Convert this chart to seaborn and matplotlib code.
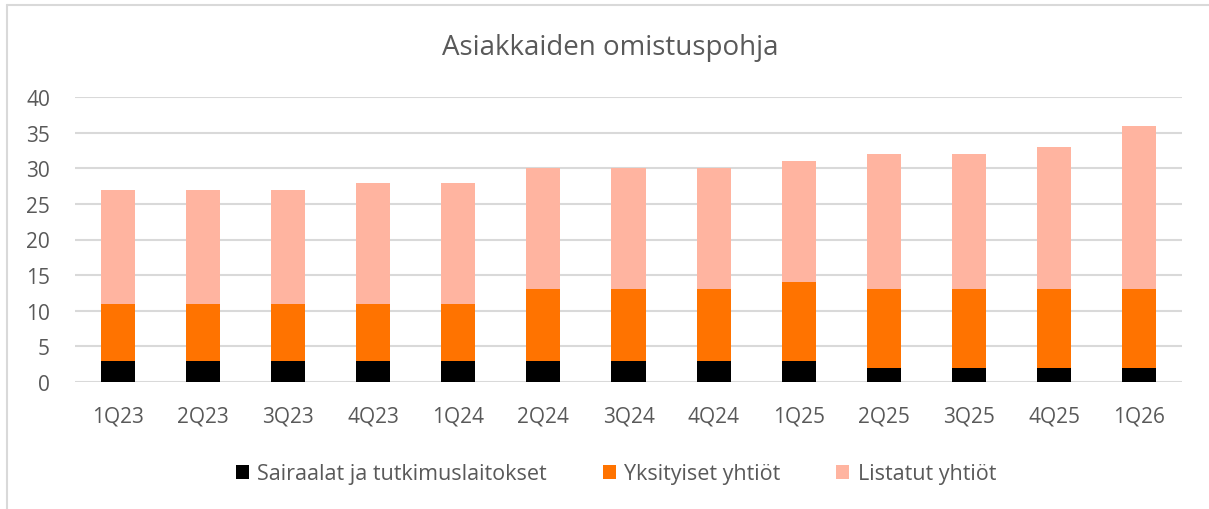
import matplotlib
matplotlib.use("Agg")
import matplotlib.pyplot as plt
import seaborn as sns
import pandas as pd
import numpy as np
from matplotlib.patches import Patch
from matplotlib.lines import Line2D

categories = ["1Q23", "2Q23", "3Q23", "4Q23", "1Q24", "2Q24", "3Q24", "4Q24",
              "1Q25", "2Q25", "3Q25", "4Q25", "1Q26"]
sairaalat = [3, 3, 3, 3, 3, 3, 3, 3, 3, 2, 2, 2, 2]
yksityiset = [8, 8, 8, 8, 8, 10, 10, 10, 11, 11, 11, 11, 11]
listatut = [16, 16, 16, 17, 17, 17, 17, 17, 17, 19, 19, 20, 23]
series_names = ["Sairaalat ja tutkimuslaitokset", "Yksityiset yhtiöt", "Listatut yhtiöt"]
colors = ["#000000", "#FF7300", "#FFB4A0"]

sns.set_theme(style="white")
plt.rcParams['font.family'] = ['Open Sans', 'DejaVu Sans']
text_color = "#595959"

df = pd.DataFrame({"cat": categories, "s": sairaalat, "y": yksityiset, "l": listatut})
df["c1"] = df["s"]
df["c2"] = df["s"] + df["y"]
df["c3"] = df["c2"] + df["l"]

fig = plt.figure(figsize=(12.09, 5.10), dpi=100)
ax = fig.add_axes([75/1209, 1 - 383/510, (1182-75)/1209, (383-98)/510])

for col, colr in zip(["c3", "c2", "c1"], colors[::-1]):
    sns.barplot(data=df, x="cat", y=col, color=colr, width=0.4, ax=ax,
                saturation=1, linewidth=0, zorder=3)

ax.set_ylim(0, 40)
ax.set_xlim(-0.5, len(categories) - 0.5)
ax.set_yticks(np.arange(0, 41, 5))
ax.yaxis.grid(True, color="#D9D9D9", linewidth=1.5, zorder=0)
ax.set_axisbelow(True)
for sp in ax.spines.values():
    sp.set_visible(False)
ax.set_xlabel("")
ax.set_ylabel("")
ax.tick_params(axis="both", length=0, labelsize=15, colors=text_color)
ax.tick_params(axis="x", pad=17)
ax.tick_params(axis="y", pad=18)

fig.text(610/1209, 1 - 48/510, "Asiakkaiden omistuspohja", ha="center", va="center",
         fontsize=20, color=text_color)

handles = [Patch(facecolor=c, edgecolor="none") for c in colors]
fig.legend(handles, series_names, loc="center", bbox_to_anchor=(616/1209, 1 - 475/510),
           ncol=3, frameon=False, fontsize=15.5, labelcolor=text_color,
           handlelength=0.6, handleheight=0.6, handletextpad=0.4, columnspacing=2.6)

# chart frame (left and top)
fig.add_artist(Line2D([7/1209, 7/1209], [0, 1 - 6/510], transform=fig.transFigure,
                      color="#D9D9D9", linewidth=1.5))
fig.add_artist(Line2D([7/1209, 1], [1 - 6/510, 1 - 6/510], transform=fig.transFigure,
                      color="#D9D9D9", linewidth=1.5))

fig.savefig("out.png", dpi=100, facecolor="white")
